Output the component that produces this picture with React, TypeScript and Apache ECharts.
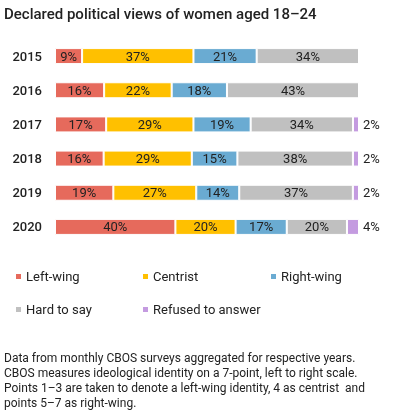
import React, { useEffect, useRef } from "react";
import * as echarts from "echarts";

const years = ["2015", "2016", "2017", "2018", "2019", "2020"];
const seriesNames = ["Left-wing", "Centrist", "Right-wing", "Hard to say", "Refused to answer"];
const leftWing = [9, 16, 17, 16, 19, 40];
const centrist = [37, 22, 29, 29, 27, 20];
const rightWing = [21, 18, 19, 15, 14, 17];
const hardToSay = [34, 43, 34, 38, 37, 20];
const refused = [0, 0, 2, 2, 2, 4];
const colors = ["#e66a5c", "#ffc000", "#6aabd2", "#c0c0c0", "#c49be0"];
const title = "Declared political views of women aged 18\u201324";
const note = [
  "Data from monthly CBOS surveys aggregated for respective years.",
  "CBOS measures ideological identity on a 7-point, left to right scale.",
  "Points 1\u20133 are taken to denote a left-wing identity, 4 as centrist  and",
  "points 5\u20137 as right-wing.",
];

export default function App() {
  const ref = useRef<HTMLDivElement>(null);
  useEffect(() => {
    if (!ref.current) return;
    const chart = echarts.init(ref.current, null, { renderer: "svg" });
    const all = [leftWing, centrist, rightWing, hardToSay, refused];
    const totals = years.map((_, i) => all.reduce((s, a) => s + a[i], 0));
    const font = "Roboto, 'Noto Sans', sans-serif";
    const series = all.map((arr, k) => ({
      name: seriesNames[k],
      type: "bar",
      stack: "total",
      barWidth: 16,
      itemStyle: { color: colors[k], borderColor: "#fff", borderWidth: 1 },
      label: {
        show: true,
        position: k === 4 ? "right" : "inside",
        distance: 4,
        color: "#222",
        fontSize: 13,
        fontFamily: font,
        formatter: (p: any) => (arr[p.dataIndex] > 0 ? arr[p.dataIndex] + "%" : ""),
      },
      data: arr.map((v, i) => (v / totals[i]) * 100),
    }));
    const legendPos = [
      [9, 265],
      [136, 265],
      [264, 265],
      [9, 298],
      [136, 298],
    ];
    const legends = seriesNames.map((n, k) => ({
      data: [n],
      left: legendPos[k][0],
      top: legendPos[k][1],
      itemWidth: 7,
      itemHeight: 7,
      itemGap: 0,
      icon: "rect",
      textStyle: { fontSize: 13, color: "#222", fontFamily: font, padding: [0, 0, 0, -1] },
    }));
    chart.setOption({
      animation: false,
      textStyle: { fontFamily: font },
      grid: { left: 55, right: 38, top: 39, height: 205 },
      xAxis: { type: "value", min: 0, max: 100, show: false },
      yAxis: {
        type: "category",
        data: years,
        inverse: true,
        axisLine: { show: false },
        axisTick: { show: false },
        axisLabel: { color: "#222", fontSize: 13, fontWeight: 500, margin: 13, fontFamily: font },
      },
      legend: legends,
      graphic: [
        {
          type: "text",
          x: 4,
          y: 6,
          style: { text: title, fontSize: 15, fontWeight: 500, fill: "#222", fontFamily: font, verticalAlign: "top", align: "left" },
        },
        {
          type: "text",
          x: 4,
          y: 350,
          style: { text: note.join("\n"), fontSize: 12, lineHeight: 15, fill: "#222", fontFamily: font, verticalAlign: "top", align: "left" },
        },
      ],
      series,
    });
    return () => chart.dispose();
  }, []);
  return (
    <div style={{ position: "fixed", left: 0, top: 0 }}>
      <div ref={ref} style={{ width: 397, height: 420 }} />
    </div>
  );
}
